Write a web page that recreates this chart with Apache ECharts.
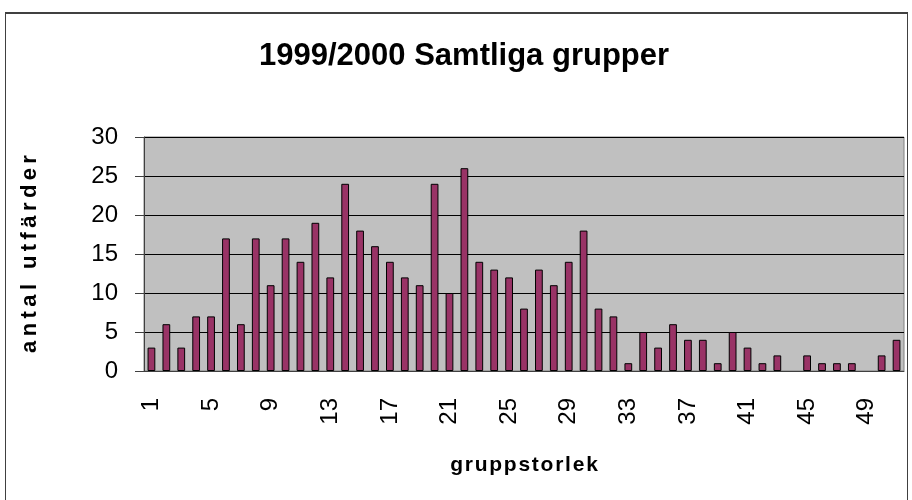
<!DOCTYPE html>
<html>
<head>
    <meta charset="utf-8">
    <script src="https://cdn.jsdelivr.net/npm/echarts@6/dist/echarts.min.js"></script>
    <style>
        html, body { margin: 0; padding: 0; background: #fff; }
    </style>
</head>
<body>
    <div id="main" style="width: 912px;height:500px;"></div>

<script type="text/javascript">
// gruppstorlek 1..51
var categories = [];
for (var i = 1; i <= 51; i++) categories.push(String(i));

// antal utfärder per gruppstorlek
var values = [3, 6, 3, 7, 7, 17, 6, 17, 11, 17,
              14, 19, 12, 24, 18, 16, 14, 12, 11, 24,
              10, 26, 14, 13, 12, 8, 13, 11, 14, 18,
              8, 7, 1, 5, 3, 6, 4, 4, 1, 5,
              3, 1, 2, 0, 2, 1, 1, 1, 0, 2,
              4];

var yTicks = [0, 5, 10, 15, 20, 25, 30];

var font = '"Liberation Sans", Arial, sans-serif';

// spärrad text som i originalet (tunna mellanrum mellan bokstäverna)
function spaced(s, sep) {
    return s.split('').join(sep);
}

var myChart = echarts.init(document.getElementById('main'));
var option = {
    animation: false,
    title: {
        text: '1999/2000 Samtliga grupper',
        left: 254,
        top: 36,
        textStyle: { fontFamily: font, fontSize: 31, fontWeight: 'bold', color: '#000' }
    },
    graphic: [
        { type: 'line', shape: { x1: 5, y1: 13, x2: 908, y2: 13 }, style: { stroke: '#404040', lineWidth: 2 } },
        { type: 'line', shape: { x1: 5.5, y1: 13, x2: 5.5, y2: 500 }, style: { stroke: '#404040', lineWidth: 1 } },
        { type: 'line', shape: { x1: 907.5, y1: 13, x2: 907.5, y2: 500 }, style: { stroke: '#404040', lineWidth: 1 } }
    ],
    grid: {
        left: 144, right: 8, top: 137, bottom: 129,
        show: true,
        backgroundColor: '#C0C0C0',
        borderColor: '#808080',
        borderWidth: 1
    },
    xAxis: {
        type: 'category',
        data: categories,
        name: spaced('gruppstorlek', '\u200a'),
        nameLocation: 'middle',
        nameGap: 84,
        nameTextStyle: { fontFamily: font, fontSize: 21, fontWeight: 'bold', color: '#000' },
        axisLine: { lineStyle: { color: '#404040', width: 1 } },
        axisTick: { interval: 0, length: 5, lineStyle: { color: '#404040' } },
        axisLabel: {
            interval: 3,
            rotate: 90,
            margin: 27,
            fontFamily: font,
            fontSize: 24,
            color: '#000'
        }
    },
    yAxis: {
        type: 'value',
        min: yTicks[0],
        max: yTicks[yTicks.length - 1],
        interval: 5,
        name: spaced('antal utfärder', '\u2009'),
        nameLocation: 'middle',
        nameGap: 103,
        nameTextStyle: { fontFamily: font, fontSize: 22, fontWeight: 'bold', color: '#000' },
        axisLine: { show: true, lineStyle: { color: '#404040', width: 1 } },
        axisTick: { show: true, length: 9, lineStyle: { color: '#404040' } },
        axisLabel: { margin: 26, fontFamily: font, fontSize: 24, color: '#000' },
        splitLine: { lineStyle: { color: '#000', width: 1 } }
    },
    series: [{
        name: 'antal utfärder',
        type: 'bar',
        // nollvärden ritas inte (ingen stapelkant)
        data: values.map(function (v) { return v === 0 ? null : v; }),
        barWidth: '52%',
        itemStyle: { color: '#993366', borderColor: '#000', borderWidth: 1 }
    }]
};
myChart.setOption(option);
</script>
</body>
</html>
